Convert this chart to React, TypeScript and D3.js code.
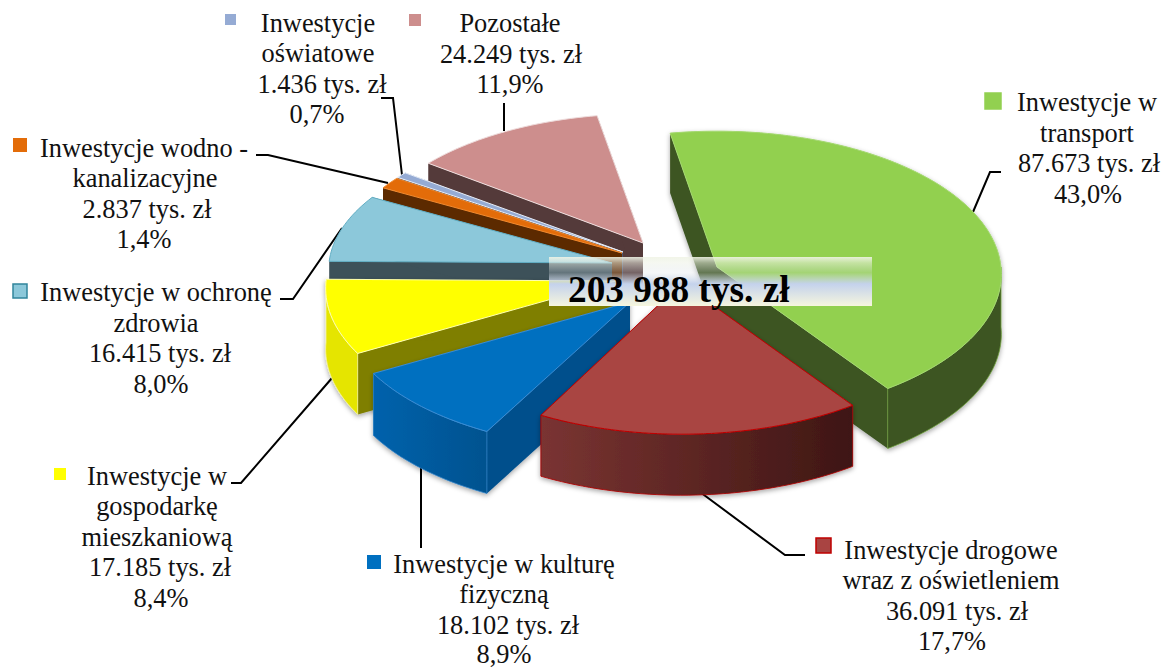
import React from "react";
import * as d3lib from "d3";

const W = 1166, H = 668;
const FONT = "'Liberation Serif','Times New Roman',serif";

// data
const categories = ["Inwestycje w transport", "Inwestycje drogowe wraz z oświetleniem", "Inwestycje w kulturę fizyczną", "Inwestycje w gospodarkę mieszkaniową", "Inwestycje w ochronę zdrowia", "Inwestycje wodno - kanalizacyjne", "Inwestycje oświatowe", "Pozostałe"];
const values = [87673, 36091, 18102, 17185, 16415, 2837, 1436, 24249];
const totalLabel = "203 988 tys. zł";

const labelLines = [
  ["Inwestycje w", "transport", "87.673 tys. zł", "43,0%"],
  ["Inwestycje drogowe", "wraz z oświetleniem", "36.091 tys. zł", "17,7%"],
  ["Inwestycje w kulturę", "fizyczną", "18.102 tys. zł", "8,9%"],
  ["Inwestycje w", "gospodarkę", "mieszkaniową", "17.185 tys. zł", "8,4%"],
  ["Inwestycje w ochronę", "zdrowia", "16.415 tys. zł", "8,0%"],
  ["Inwestycje wodno -", "kanalizacyjne", "2.837 tys. zł", "1,4%"],
  ["Inwestycje", "oświatowe", "1.436 tys. zł", "0,7%"],
  ["Pozostałe", "24.249 tys. zł", "11,9%"],
];

// styles
const topColors = ["#92d050", "#a94442", "#0070c0", "#ffff00", "#8cc8da", "#e36c09", "#95abd4", "#cd8e8d"];
const strokeColors = ["#a4d870", "#c00000", "#3a8cd4", "#ffffb0", "#62aec4", "#f08a30", "#e8eef8", "#eedcdc"];
const wallStrokes = ["#6f9e3e", "#b00000", "#2f7fc4", "#f4f4a0", "#3d5159", "#5c2a00", "#4c5770", "#543a3a"];
const faceColors = ["#3c5422", "#5e2524", "#00508c", "#7f7f00", "#3d5159", "#5c2a00", "#4c5770", "#543a3a"];
const wallA = ["#3c5422", "#7a3432", "#0062ac", "#e5e500", "#3d5159", "#5c2a00", "#4c5770", "#543a3a"];
const wallB = ["#3c5422", "#3e1614", "#00528f", "#e5e500", "#3d5159", "#5c2a00", "#4c5770", "#543a3a"];
const markerStroke = ["#92d050", "#c00000", "#0070c0", "#ffff00", "#31859c", "#e36c09", "#95abd4", "#cd8e8d"];

// layout
const centre = [670, 270];
const offsetX = [47, 12, -40, -54, -58, -48, -47, -27];
const offsetY = [-3, 13, 32, 11, -7, -17, -18, -27];
const radiusX = [284, 284, 288, 290, 283, 282, 282, 278];
const radiusY = [143, 144, 141, 143, 136, 135, 135, 136];
const depths = [60, 61, 62, 61, 58, 58, 58, 56];
const perspective = 0.05;
const drawOrder = [7, 6, 5, 4, 3, 2, 0, 1];

const markerBoxes = [[985, 93, 16], [816, 538, 15], [367, 555, 14], [54, 468, 12], [13, 284, 14], [13, 138, 14], [225, 14, 11], [409, 14, 12]];
const lineCentres = [
  [1087, 1087, 1089, 1088], [951, 951, 957, 952], [504, 504, 508, 504],
  [157, 157, 157, 160, 161], [156, 156, 160, 161], [144, 145, 147, 144],
  [318, 318, 322, 317], [510, 511, 510],
];
const lineBaselines = [
  [111, 142, 172, 203], [559, 589, 620, 650], [573, 603, 634, 663],
  [485, 515, 546, 576, 607], [301, 332, 362, 393], [157, 187, 218, 248],
  [32, 62, 93, 123], [32, 63, 93],
];
const leaders: [number, number][][] = [
  [[973, 212], [990, 172], [1001, 172]],
  [[700, 492], [785, 555], [805, 555]],
  [[421, 465], [421, 548]],
  [[332, 378], [241, 483], [231, 483]],
  [[342, 228], [293, 299], [280, 299]],
  [[388, 183], [268, 155], [256, 155]],
  [[402, 175], [393, 98], [381, 98]],
  [[504, 131], [504, 103]],
];

const DEG = Math.PI / 180;
const pie = d3lib.pie<number>().sort(null).startAngle(-10 * DEG).endAngle(350 * DEG);
const arcs = pie(values);
const lineGen = d3lib.line<number[]>().x((d) => d[0]).y((d) => d[1]);

function project(i: number, a: number, dy = 0): number[] {
  const s = 1 - perspective * Math.cos(a);
  return [
    centre[0] + offsetX[i] + radiusX[i] * s * Math.sin(a),
    centre[1] + offsetY[i] - radiusY[i] * s * Math.cos(a) + dy,
  ];
}
function apex(i: number, dy = 0): number[] {
  return [centre[0] + offsetX[i], centre[1] + offsetY[i] + dy];
}
function sample(a0: number, a1: number): number[] {
  const n = Math.max(2, Math.ceil((a1 - a0) / (1.5 * DEG)));
  return d3lib.range(n + 1).map((k) => a0 + ((a1 - a0) * k) / n);
}
function facePath(i: number, a: number): string {
  return lineGen([apex(i), project(i, a), project(i, a, depths[i]), apex(i, depths[i])]) + "Z";
}
function topPath(i: number): string {
  const d = arcs[i];
  return lineGen([apex(i), ...sample(d.startAngle, d.endAngle).map((a) => project(i, a))]) + "Z";
}
function wallPath(i: number): string | null {
  const a0 = Math.max(arcs[i].startAngle, 90 * DEG);
  const a1 = Math.min(arcs[i].endAngle, 270 * DEG);
  if (a1 <= a0) return null;
  const as = sample(a0, a1);
  const up = as.map((a) => project(i, a));
  const down = as.slice().reverse().map((a) => project(i, a, depths[i]));
  return lineGen([...up, ...down]) + "Z";
}

function Slice({ i }: { i: number }) {
  const d = arcs[i];
  const wall = wallPath(i);
  const pL = project(i, Math.max(d.startAngle, 90 * DEG));
  const pR = project(i, Math.min(d.endAngle, 270 * DEG));
  const x1 = Math.min(pL[0], pR[0]);
  const x2 = Math.max(pL[0], pR[0]);
  return (
    <g filter={i <= 3 ? "url(#softShadow)" : undefined}>
      <linearGradient id={`wall${i}`} gradientUnits="userSpaceOnUse" x1={x1} x2={x2} y1={0} y2={0}>
        <stop offset="0" stopColor={wallA[i]} />
        <stop offset="1" stopColor={wallB[i]} />
      </linearGradient>
      <path d={facePath(i, d.startAngle)} fill={faceColors[i]} />
      <path d={facePath(i, d.endAngle)} fill={faceColors[i]} />
      {wall && <path d={wall} fill={`url(#wall${i})`} stroke={wallStrokes[i]} strokeWidth={0.8} strokeLinejoin="round" />}
      <path d={topPath(i)} fill={topColors[i]} stroke={strokeColors[i]} strokeWidth={1} strokeLinejoin="round" />
    </g>
  );
}

export default function App() {
  return (
    <svg width={W} height={H} viewBox={`0 0 ${W} ${H}`} style={{ position: "fixed", left: 0, top: 0, display: "block", background: "#fff" }} fontFamily={FONT}>
      <defs>
        <filter id="softShadow" x="-10%" y="-10%" width="120%" height="125%">
          <feDropShadow dx="0" dy="2" stdDeviation="2.5" floodColor="#000" floodOpacity="0.35" />
        </filter>
        <linearGradient id="boxFill" x1="0" x2="0" y1="0" y2="1">
          <stop offset="0" stopColor="#f0f4e6" stopOpacity="0.9" />
          <stop offset="0.12" stopColor="#eef2e6" stopOpacity="0.55" />
          <stop offset="0.32" stopColor="#d8dee4" stopOpacity="0.25" />
          <stop offset="0.55" stopColor="#c4d2ec" stopOpacity="1" />
          <stop offset="1" stopColor="#f6f6de" stopOpacity="1" />
        </linearGradient>
      </defs>
      {leaders.map((pts, i) => (
        <path key={i} d={lineGen(pts) as string} fill="none" stroke="#000" strokeWidth={2} />
      ))}
      {drawOrder.map((i) => <Slice key={i} i={i} />)}
      <rect x={549} y={257} width={323} height={49} fill="url(#boxFill)" />
      <text x={568} y={302} fontSize={37.3} fontWeight="bold" fill="#000">{totalLabel}</text>
      {categories.map((c, i) => (
        <g key={c} aria-label={c}>
          <rect x={markerBoxes[i][0]} y={markerBoxes[i][1]} width={markerBoxes[i][2]} height={markerBoxes[i][2]} fill={topColors[i]} stroke={markerStroke[i]} strokeWidth={i < 2 || i === 4 ? 1.5 : 0} />
          {labelLines[i].map((t, j) => (
            <text key={j} x={lineCentres[i][j]} y={lineBaselines[i][j]} textAnchor="middle" fontSize={26.4} fill="#111">{t}</text>
          ))}
        </g>
      ))}
    </svg>
  );
}
